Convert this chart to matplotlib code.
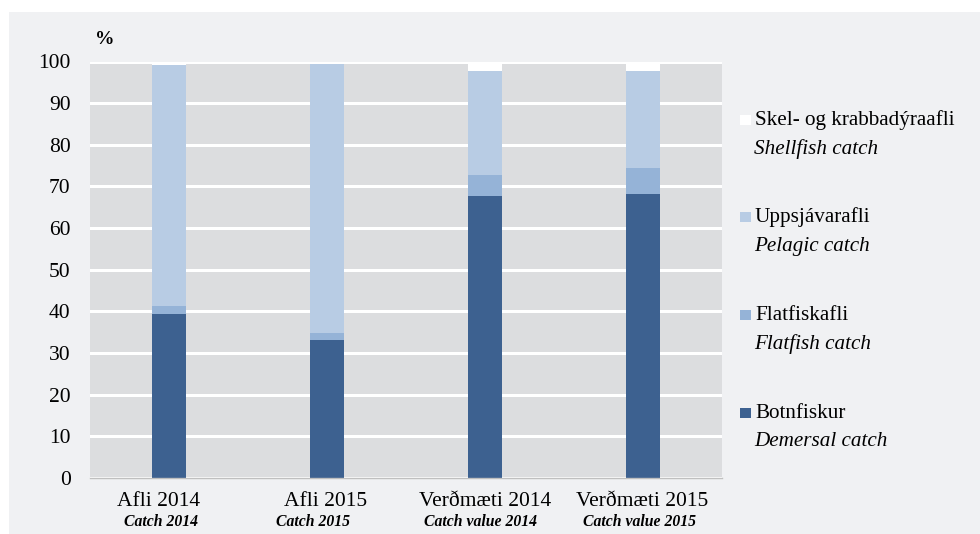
import matplotlib
matplotlib.use("Agg")
import matplotlib.pyplot as plt
from matplotlib.patches import Rectangle
from matplotlib.transforms import blended_transform_factory

# data (percent shares)
categories_is = ["Afli 2014", "Afli 2015", "Verðmæti 2014", "Verðmæti 2015"]
categories_en = ["Catch 2014", "Catch 2015", "Catch value 2014", "Catch value 2015"]
demersal = [39.4, 33.1, 67.8, 68.1]
flatfish = [1.9, 1.8, 5.0, 6.4]
pelagic = [57.9, 64.5, 24.9, 23.1]
shellfish = [0.8, 0.6, 2.3, 2.4]

series_is = ["Botnfiskur", "Flatfiskafli", "Uppsjávarafli", "Skel- og krabbadýraafli"]
series_en = ["Demersal catch", "Flatfish catch", "Pelagic catch", "Shellfish catch"]
colors = ["#3d6190", "#95b3d7", "#b8cce4", "#ffffff"]

# label nudges (data units) so the category text sits as in the source
nudge_is = [-0.065, -0.01, 0.0, -0.005]
nudge_en = [-0.05, -0.09, -0.03, -0.025]

W, H = 980, 534
plt.rcParams["font.family"] = ["Liberation Serif", "DejaVu Serif"]

fig = plt.figure(figsize=(W / 100, H / 100), dpi=100, facecolor="white")
fig.add_artist(Rectangle((9 / W, 0), 1, 1 - 12 / H, transform=fig.transFigure,
                         facecolor="#f0f1f3", edgecolor="none", zorder=-10))

ax = fig.add_axes([90 / W, 1 - 478 / H, 632 / W, 416.5 / H])
ax.set_facecolor("#dcdddf")

x = list(range(len(categories_is)))
width = 0.22
bottom = [0.0] * len(x)
for vals, col in zip([demersal, flatfish, pelagic, shellfish], colors):
    ax.bar(x, vals, width, bottom=bottom, color=col, zorder=3, linewidth=0)
    bottom = [b + v for b, v in zip(bottom, vals)]

ax.set_xlim(-0.5, 3.5)
ax.set_ylim(0, 100)
ax.set_yticks(range(0, 101, 10))
ax.tick_params(axis="y", labelsize=15.5, length=0, pad=14)
ax.set_xticks([])
ax.yaxis.grid(True, color="white", linewidth=2.2, zorder=1)
ax.set_axisbelow(True)
for name, s in ax.spines.items():
    if name == "bottom":
        s.set_color("#bfbfbf")
        s.set_linewidth(1.0)
        s.set_zorder(4)
    else:
        s.set_visible(False)

trans = blended_transform_factory(ax.transData, fig.transFigure)
for xi, lab_is, lab_en, d1, d2 in zip(x, categories_is, categories_en, nudge_is, nudge_en):
    ax.text(xi + d1, 1 - 502 / H, lab_is, transform=trans, ha="center", va="center",
            fontsize=15.5)
    ax.text(xi + d2, 1 - 522 / H, lab_en, transform=trans, ha="center", va="center",
            fontsize=11.3, style="italic", fontweight="bold")

fig.text(95 / W, 1 - 40 / H, "%", fontsize=14, fontweight="bold", va="center")

# legend drawn by hand: Icelandic label plus English italic line
legend_y = [120, 217, 315, 413]
for i, (name_is, name_en, col) in enumerate(zip(series_is[::-1], series_en[::-1], colors[::-1])):
    y = legend_y[i]
    fig.add_artist(Rectangle((740 / W, 1 - (y + 5) / H), 11 / W, 10 / H,
                             transform=fig.transFigure, facecolor=col, edgecolor="none"))
    fig.text(755 / W, 1 - y / H, name_is, fontsize=15.2, va="center")
    fig.text(754 / W, 1 - (y + 29) / H, name_en, fontsize=15.2, va="center",
             style="italic")

fig.savefig("out.png", dpi=100, facecolor=fig.get_facecolor())
